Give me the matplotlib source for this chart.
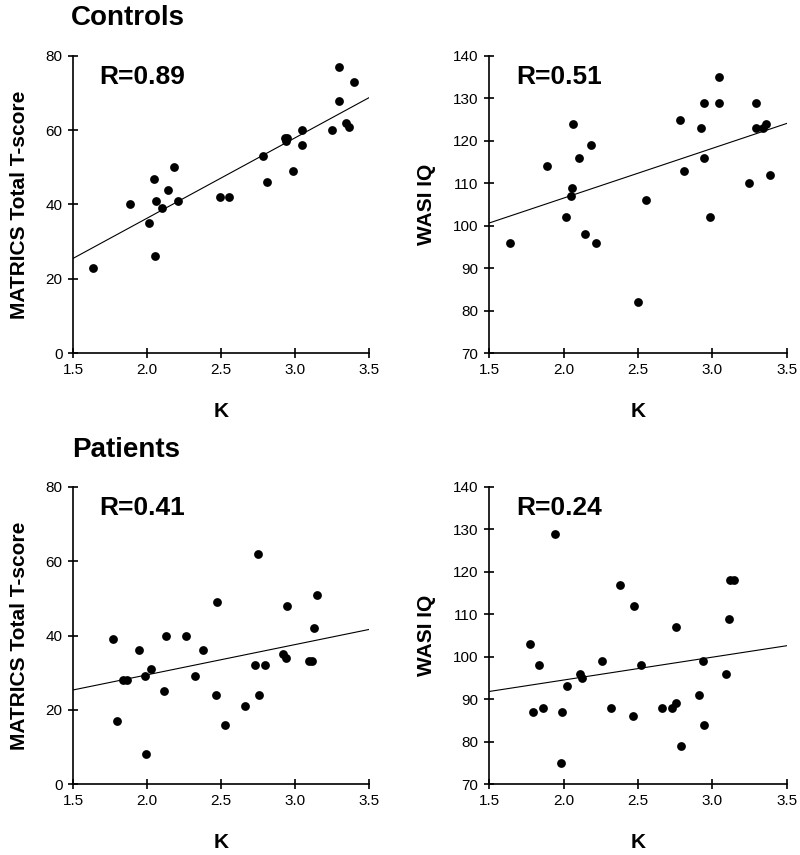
import numpy as np
import matplotlib
matplotlib.use("Agg")
import matplotlib.pyplot as plt

plt.rcParams['font.family'] = ['Liberation Sans', 'DejaVu Sans']

# Controls: K vs MATRICS
ctrl_k_m = [1.638, 1.888, 2.016, 2.047, 2.059, 2.055, 2.10, 2.145, 2.185, 2.212, 2.496, 2.552,
            2.782, 2.811, 2.930, 2.946, 2.941, 2.986, 3.047, 3.05, 3.25, 3.297, 3.294, 3.347, 3.363, 3.397]
ctrl_matrics = [23, 40, 35, 47, 41, 26, 39, 44, 50, 41, 42, 42,
                53, 46, 58, 58, 57, 49, 60, 56, 60, 77, 68, 62, 61, 73]

# Controls: K vs WASI IQ
ctrl_k_w = [1.639, 1.889, 2.017, 2.053, 2.059, 2.064, 2.104, 2.147, 2.187, 2.216, 2.5, 2.551, 2.78,
            2.811, 2.925, 2.941, 2.943, 2.983, 3.044, 3.044, 3.247, 3.29, 3.29, 3.337, 3.359, 3.388]
ctrl_wasi = [96, 114, 102, 107, 109, 124, 116, 98, 119, 96, 82, 106, 125,
             113, 123, 129, 116, 102, 135, 129, 110, 129, 123, 123, 124, 112]

# Patients: K vs MATRICS
pat_k_m = [1.772, 1.799, 1.835, 1.862, 1.945, 1.985, 1.992, 2.024, 2.113, 2.127, 2.262, 2.325, 2.379,
           2.466, 2.475, 2.525, 2.66, 2.727, 2.752, 2.758, 2.794, 2.916, 2.936, 2.948, 3.096, 3.118,
           3.125, 3.149]
pat_matrics = [39, 17, 28, 28, 36, 29, 8, 31, 25, 40, 40, 29, 36,
               24, 49, 16, 21, 32, 62, 24, 32, 35, 34, 48, 33, 33,
               42, 51]

# Patients: K vs WASI IQ
pat_k_w = [1.775, 1.798, 1.838, 1.86, 1.943, 1.981, 1.992, 2.021, 2.111, 2.124, 2.258, 2.321, 2.379,
           2.464, 2.473, 2.518, 2.659, 2.726, 2.753, 2.757, 2.791, 2.909, 2.934, 2.943, 3.091, 3.111,
           3.115, 3.142]
pat_wasi = [103, 87, 98, 88, 129, 75, 87, 93, 96, 95, 99, 88, 117,
            86, 112, 98, 88, 88, 107, 89, 79, 91, 99, 84, 96, 109,
            118, 118]

# Regression lines as shown (slope, intercept)
fit_slopes = [21.65, 11.75, 8.15, 5.4]
fit_intercepts = [-7.0, 83.0, 13.1, 83.7]

r_labels = ["R=0.89", "R=0.51", "R=0.41", "R=0.24"]
y_labels = ["MATRICS Total T-score", "WASI IQ", "MATRICS Total T-score", "WASI IQ"]
x_ticks = [1.5, 2.0, 2.5, 3.0, 3.5]
matrics_ticks = [0, 20, 40, 60, 80]
wasi_ticks = [70, 80, 90, 100, 110, 120, 130, 140]

W, H = 800, 855
fig = plt.figure(figsize=(W / 100, H / 100), dpi=100)

def px_axes(x0, x1, ytop, ybot):
    return fig.add_axes([x0 / W, 1 - ybot / H, (x1 - x0) / W, (ybot - ytop) / H])

panels = [
    (px_axes(73, 369, 56, 353), ctrl_k_m, ctrl_matrics, matrics_ticks, 0),
    (px_axes(489, 787, 56, 353), ctrl_k_w, ctrl_wasi, wasi_ticks, 1),
    (px_axes(73, 369, 487, 784), pat_k_m, pat_matrics, matrics_ticks, 2),
    (px_axes(489, 787, 487, 784), pat_k_w, pat_wasi, wasi_ticks, 3),
]

for ax, xs, ys, yt, i in panels:
    ax.scatter(xs, ys, s=40, color='black', zorder=3, linewidths=0)
    xl = np.array(x_ticks)[[0, -1]]
    ax.plot(xl, fit_slopes[i] * xl + fit_intercepts[i], color='black', lw=0.8, zorder=2)
    ax.set_xlim(x_ticks[0], x_ticks[-1])
    ax.set_ylim(yt[0], yt[-1])
    ax.set_xticks(x_ticks)
    ax.set_xticklabels([f"{t:.1f}" for t in x_ticks])
    ax.set_yticks(yt)
    ax.spines['top'].set_visible(False)
    ax.spines['right'].set_visible(False)
    ax.spines['left'].set_linewidth(1.2)
    ax.spines['bottom'].set_linewidth(1.2)
    ax.tick_params(direction='inout', length=7, width=1.2, labelsize=11, colors='black', pad=4)
    ax.set_xlabel("K", fontsize=15, fontweight='bold', labelpad=18)
    ax.set_ylabel(y_labels[i], fontsize=15, fontweight='bold', labelpad=12)
    ax.text(0.09, 0.93, r_labels[i], transform=ax.transAxes, fontsize=19, fontweight='bold',
            va='center', ha='left')

fig.text(71 / W, 1 - 18 / H, "Controls", fontsize=20, fontweight='bold', va='center', ha='left')
fig.text(72 / W, 1 - 450 / H, "Patients", fontsize=20, fontweight='bold', va='center', ha='left')

fig.savefig("out.png", dpi=100, facecolor='white')
